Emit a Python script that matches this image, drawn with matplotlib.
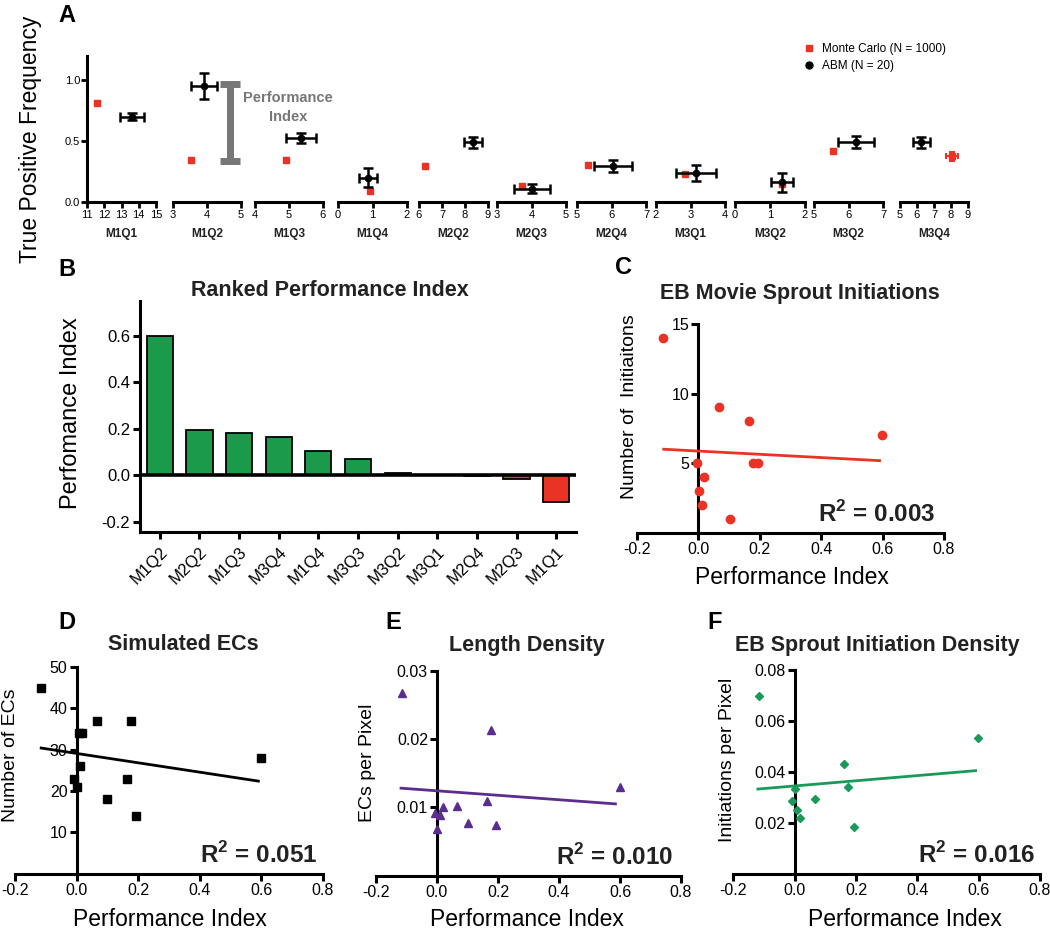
import matplotlib
matplotlib.use('Agg')
import matplotlib.pyplot as plt
from matplotlib.lines import Line2D

plt.rcParams['font.family'] = ['Liberation Sans', 'DejaVu Sans']
plt.rcParams['mathtext.fontset'] = 'custom'
plt.rcParams['mathtext.rm'] = 'Liberation Sans'
plt.rcParams['mathtext.bf'] = 'Liberation Sans:bold'

W, H = 1050, 931
RED = '#ea3325'
GREEN_BAR = '#1b9a4b'
GREEN = '#1a9a5a'
PURPLE = '#5a2d8f'
GRAY = '#777777'

# ---------------- Panel A data ----------------
groups = ['M1Q1', 'M1Q2', 'M1Q3', 'M1Q4', 'M2Q2', 'M2Q3', 'M2Q4', 'M3Q1', 'M3Q2', 'M3Q2', 'M3Q4']
group_xlims = [(11, 15), (3, 5), (4, 6), (0, 2), (6, 9), (3, 5), (5, 7), (2, 4), (0, 2), (5, 7), (5, 9)]
mc_x = [11.58, 3.53, 4.91, 0.93, 6.26, 3.72, 5.32, 2.84, 1.33, 5.55, 8.06]
mc_y = [0.81, 0.345, 0.345, 0.09, 0.295, 0.13, 0.30, 0.23, 0.15, 0.42, 0.375]
mc_xerr = [0.04, 0.03, 0.03, 0.03, 0.04, 0.05, 0.04, 0.05, 0.03, 0.03, 0.35]
mc_yerr = [0.015, 0.012, 0.012, 0.012, 0.015, 0.012, 0.015, 0.012, 0.012, 0.015, 0.035]
abm_x = [13.6, 3.91, 5.35, 0.87, 8.35, 4.01, 6.04, 3.16, 1.34, 6.22, 6.24]
abm_y = [0.70, 0.95, 0.525, 0.20, 0.49, 0.11, 0.295, 0.24, 0.16, 0.49, 0.49]
abm_xerr = [0.70, 0.37, 0.43, 0.25, 0.39, 0.52, 0.54, 0.58, 0.31, 0.51, 0.50]
abm_yerr = [0.03, 0.105, 0.04, 0.08, 0.045, 0.035, 0.05, 0.065, 0.08, 0.05, 0.045]

# ---------------- Panel B data ----------------
rank_labels = ['M1Q2', 'M2Q2', 'M1Q3', 'M3Q4', 'M1Q4', 'M3Q3', 'M3Q2', 'M3Q1', 'M2Q4', 'M2Q3', 'M1Q1']
perf_index = [0.600, 0.196, 0.180, 0.166, 0.103, 0.068, 0.010, 0.002, -0.003, -0.018, -0.117]

# ---------------- Scatter data ----------------
c_x = [-0.115, -0.005, 0.002, 0.011, 0.018, 0.067, 0.102, 0.164, 0.178, 0.194, 0.598]
c_y = [14, 5, 3, 2, 4, 9, 1, 8, 5, 5, 7]
c_fit_x = [-0.113, 0.59]
c_fit_y = [5.99, 5.17]

d_x = [-0.115, -0.008, 0.002, 0.008, 0.011, 0.019, 0.065, 0.100, 0.163, 0.177, 0.193, 0.599]
d_y = [45, 23, 21, 34, 26, 34, 37, 18, 23, 37, 14, 28]
d_fit_x = [-0.115, 0.59]
d_fit_y = [30.4, 22.4]

e_x = [-0.114, -0.005, 0.001, 0.011, 0.020, 0.067, 0.102, 0.164, 0.178, 0.195, 0.599]
e_y = [0.0267, 0.0092, 0.0068, 0.0089, 0.0101, 0.0102, 0.0077, 0.0109, 0.0213, 0.0074, 0.0129]
e_fit_x = [-0.118, 0.585]
e_fit_y = [0.0128, 0.0105]

f_x = [-0.116, -0.009, 0.000, 0.008, 0.016, 0.065, 0.161, 0.175, 0.192, 0.598]
f_y = [0.0698, 0.0287, 0.0334, 0.0252, 0.0219, 0.0295, 0.0431, 0.0343, 0.0184, 0.0535]
f_fit_x = [-0.12, 0.59]
f_fit_y = [0.0334, 0.0406]


def fx(px):
    return px / W


def fy(py):
    return 1 - py / H


def rect(x0, y_top, x1, y_bot):
    return [fx(x0), fy(y_bot), (x1 - x0) / W, (y_bot - y_top) / H]


fig = plt.figure(figsize=(W / 100, H / 100), dpi=100)

SPW = 2.2  # spine width
# ---------------- Panel A ----------------
seg_px = [(87, 156), (173, 241), (255, 323), (338, 407), (419, 488), (497, 566),
          (577, 646), (656, 725), (735, 805), (814, 883), (900, 968)]
a_top, a_bot = 55.6, 202
axes_a = []
for i, (p0, p1) in enumerate(seg_px):
    ax = fig.add_axes(rect(p0, a_top, p1, a_bot))
    axes_a.append(ax)
    ax.set_xlim(*group_xlims[i])
    ax.set_ylim(0, 1.2)
    lo, hi = group_xlims[i]
    ax.set_xticks(range(lo, hi + 1))
    ax.tick_params(axis='x', direction='out', length=4, width=2, labelsize=8, pad=1.5)
    for s in ['top', 'right']:
        ax.spines[s].set_visible(False)
    ax.spines['bottom'].set_linewidth(2.2)
    ax.patch.set_alpha(0)
    if i == 0:
        ax.spines['left'].set_linewidth(2.2)
        ax.set_yticks([0, 0.5, 1.0])
        ax.set_yticklabels(['0.0', '0.5', '1.0'])
        ax.tick_params(axis='y', direction='out', length=4, width=2, labelsize=8, pad=1)
    else:
        ax.spines['left'].set_visible(False)
        ax.set_yticks([])
    ax.errorbar(mc_x[i], mc_y[i], xerr=mc_xerr[i], yerr=mc_yerr[i], fmt='s', color=RED,
                ms=4.5, elinewidth=1.5, capsize=2, capthick=1.5, clip_on=False, zorder=3)
    ax.errorbar(abm_x[i], abm_y[i], xerr=abm_xerr[i], yerr=abm_yerr[i], fmt='o', color='black',
                ms=4.5, elinewidth=1.8, capsize=3.5, capthick=1.8, clip_on=False, zorder=4)
    fig.text(fx((p0 + p1) / 2), fy(234), groups[i], ha='center', va='center',
             fontsize=8.5, fontweight='bold', color='#222222')

# Performance index bracket annotation
axes_a[1].errorbar(4.68, 0.655, yerr=0.315, fmt='none', ecolor=GRAY, elinewidth=5,
                   capsize=7, capthick=5, clip_on=False)
fig.text(fx(288), fy(98), 'Performance', ha='center', va='center', fontsize=10.5,
         fontweight='bold', color=GRAY)
fig.text(fx(288), fy(117), 'Index', ha='center', va='center', fontsize=10.5,
         fontweight='bold', color=GRAY)

fig.text(fx(31), fy(139), 'True Positive Frequency', rotation=90, ha='center', va='center',
         fontsize=16.5)
fig.text(fx(58), fy(4), 'A', ha='left', va='top', fontsize=17, fontweight='bold')

handles = [Line2D([], [], ls='none', marker='s', color=RED, ms=5),
           Line2D([], [], ls='none', marker='o', color='black', ms=5)]
fig.legend(handles, ['Monte Carlo (N = 1000)', 'ABM (N = 20)'], loc='upper left',
           bbox_to_anchor=(fx(803), fy(43)), frameon=False, fontsize=8.5, handlelength=1,
           handletextpad=0.6, labelspacing=0.45, borderaxespad=0, borderpad=0)

# ---------------- Panel B ----------------
axb = fig.add_axes(rect(140, 301, 576, 532))
xb = list(range(len(rank_labels)))
colors = [GREEN_BAR if v >= 0 else RED for v in perf_index]
axb.bar(xb, perf_index, width=0.66, color=colors, edgecolor='black', linewidth=1.3, zorder=2)
axb.axhline(0, color='black', lw=2.6, zorder=3)
axb.set_xlim(-0.5, 10.5)
axb.set_ylim(-0.245, 0.75)
axb.set_yticks([-0.2, 0.0, 0.2, 0.4, 0.6])
axb.set_yticklabels(['-0.2', '0.0', '0.2', '0.4', '0.6'])
axb.set_xticks(xb)
axb.set_xticklabels(rank_labels, rotation=45, ha='right', rotation_mode='anchor')
axb.tick_params(direction='out', length=5, width=SPW, labelsize=12, pad=2)
axb.tick_params(axis='x', pad=4)
for s in ['top', 'right']:
    axb.spines[s].set_visible(False)
for s in ['left', 'bottom']:
    axb.spines[s].set_linewidth(SPW)
fig.text(fx(330), fy(291), 'Ranked Performance Index', ha='center', va='center',
         fontsize=15.5, fontweight='bold', color='#222222')
fig.text(fx(71), fy(413), 'Perfomance Index', rotation=90, ha='center', va='center', fontsize=17)
fig.text(fx(58), fy(258), 'B', ha='left', va='top', fontsize=17, fontweight='bold')


# ---------------- Scatter panels ----------------
def scatter_panel(r, x, y, marker, color, ms, ylim, yticks, yticklabels, fit_x, fit_y):
    ax = fig.add_axes(r)
    ax.plot(x, y, ls='none', marker=marker, color=color, ms=ms, clip_on=False, zorder=4)
    ax.plot(fit_x, fit_y, color=color, lw=2.0, zorder=3)
    ax.set_xlim(-0.2, 0.8)
    ax.set_ylim(*ylim)
    ax.set_xticks([-0.2, 0.0, 0.2, 0.4, 0.6, 0.8])
    ax.set_xticklabels(['-0.2', '0.0', '0.2', '0.4', '0.6', '0.8'])
    ax.set_yticks(yticks)
    ax.set_yticklabels(yticklabels)
    ax.spines['left'].set_position(('data', 0))
    for s in ['top', 'right']:
        ax.spines[s].set_visible(False)
    for s in ['left', 'bottom']:
        ax.spines[s].set_linewidth(SPW)
    ax.tick_params(direction='out', length=5, width=SPW, labelsize=11.5, pad=1.5)
    ax.patch.set_alpha(0)
    return ax


def r2_text(x, y, val):
    fig.text(fx(x), fy(y), r'R$^{\mathbf{2}}$ = ' + val, ha='right', va='baseline',
             fontsize=17.5, fontweight='bold', color='#222222')


# C
scatter_panel(rect(637, 324, 944, 532.5), c_x, c_y, 'o', RED, 6, (0, 15),
              [5, 10, 15], ['5', '10', '15'], c_fit_x, c_fit_y)
fig.text(fx(800), fy(293), 'EB Movie Sprout Initiations', ha='center', va='center',
         fontsize=15.5, fontweight='bold', color='#222222')
fig.text(fx(630), fy(407), 'Number of  Initiaitons', rotation=90, ha='center', va='center', fontsize=14)
fig.text(fx(792), fy(577), 'Performance Index', ha='center', va='center', fontsize=16.5)
r2_text(935, 522, '0.003')
fig.text(fx(615), fy(256), 'C', ha='left', va='top', fontsize=17, fontweight='bold')

# D
scatter_panel(rect(15, 667, 323, 873.7), d_x, d_y, 's', 'black', 5.5, (0, 50),
              [10, 20, 30, 40, 50], ['10', '20', '30', '40', '50'], d_fit_x, d_fit_y)
fig.text(fx(183), fy(645), 'Simulated ECs', ha='center', va='center',
         fontsize=15.5, fontweight='bold', color='#222222')
fig.text(fx(11), fy(755), 'Number of ECs', rotation=90, ha='center', va='center', fontsize=14)
fig.text(fx(170), fy(930.5), 'Performance Index', ha='center', va='bottom', fontsize=16.5)
r2_text(317, 863, '0.051')
fig.text(fx(58), fy(611), 'D', ha='left', va='top', fontsize=17, fontweight='bold')

# E
scatter_panel(rect(376, 670.7, 681, 875.6), e_x, e_y, '^', PURPLE, 5.5, (0, 0.03),
              [0.01, 0.02, 0.03], ['0.01', '0.02', '0.03'], e_fit_x, e_fit_y)
fig.text(fx(527), fy(645), 'Length Density', ha='center', va='center',
         fontsize=15.5, fontweight='bold', color='#222222')
fig.text(fx(368), fy(763), 'ECs per Pixel', rotation=90, ha='center', va='center', fontsize=14)
fig.text(fx(527), fy(930.5), 'Performance Index', ha='center', va='bottom', fontsize=16.5)
r2_text(673, 865, '0.010')
fig.text(fx(385), fy(611), 'E', ha='left', va='top', fontsize=17, fontweight='bold')

# F
scatter_panel(rect(733.3, 670, 1040, 874.4), f_x, f_y, 'D', GREEN, 4.5, (0, 0.08),
              [0.02, 0.04, 0.06, 0.08], ['0.02', '0.04', '0.06', '0.08'], f_fit_x, f_fit_y)
fig.text(fx(877), fy(645), 'EB Sprout Initiation Density', ha='center', va='center',
         fontsize=15.5, fontweight='bold', color='#222222')
fig.text(fx(727), fy(760), 'Initiations per Pixel', rotation=90, ha='center', va='center', fontsize=14)
fig.text(fx(905), fy(930.5), 'Performance Index', ha='center', va='bottom', fontsize=16.5)
r2_text(1035, 863, '0.016')
fig.text(fx(707), fy(611), 'F', ha='left', va='top', fontsize=17, fontweight='bold')

fig.savefig('out.png', dpi=100)
